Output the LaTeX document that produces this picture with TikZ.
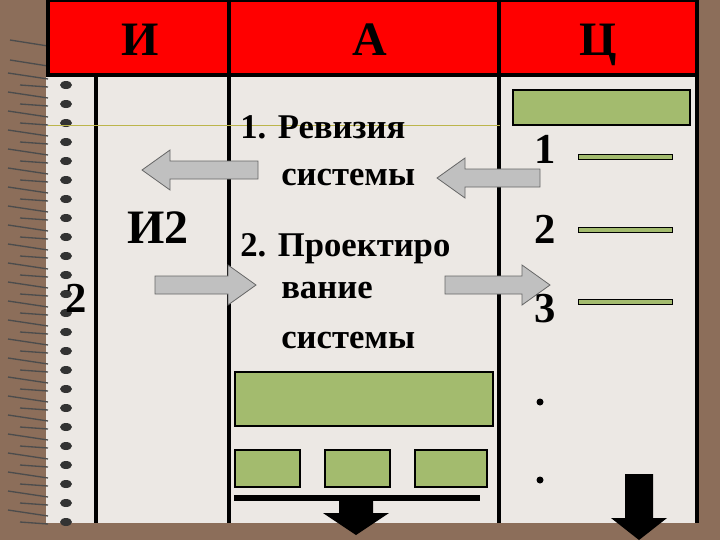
\documentclass[tikz,border=0pt]{standalone}
\usepackage{fontspec}
\setmainfont{Liberation Serif}
\definecolor{brownbg}{HTML}{8C6E5A}
\definecolor{paper}{HTML}{ECE8E4}
\definecolor{hdr}{HTML}{FF0000}
\definecolor{grn}{HTML}{A3BB6E}
\definecolor{arr}{HTML}{C0C0C0}
\newcommand{\harrow}[4]{% x-start, x-tip, y, style
  \pgfmathsetmacro\dir{(#2>#1)?1:-1}
  \draw[#4] (#1,#3-9) -- ({#2-\dir*28},#3-9) -- ({#2-\dir*28},#3-20) -- (#2,#3) -- ({#2-\dir*28},#3+20) -- ({#2-\dir*28},#3+9) -- (#1,#3+9) -- cycle;}
\newcommand{\varrow}[5]{% x, y-start, y-tip, shaft half, head half
  \fill[black] (#1-#4,#2) -- (#1-#4,#3-22) -- (#1-#5,#3-22) -- (#1,#3) -- (#1+#5,#3-22) -- (#1+#4,#3-22) -- (#1+#4,#2) -- cycle;}
\begin{document}
\begin{tikzpicture}[x=0.75pt,y=-0.75pt,
  txt/.style={anchor=base west,font=\bfseries\fontsize{26}{28}\selectfont,inner sep=0},
  big/.style={anchor=base,font=\bfseries\fontsize{32}{34}\selectfont,inner sep=0},
  gbox/.style={draw=black,fill=grn,line width=0.8pt},
  vline/.style={line width=3pt,black},
  garr/.style={draw=black!60,fill=arr,line width=0.6pt},
  seg/.style={draw=black,fill=grn,line width=0.6pt}]
\useasboundingbox (0,0) rectangle (720,540);
\fill[brownbg] (0,0) rectangle (720,540);
\fill[paper] (46,0) rectangle (698,523);
% spiral
\foreach \i in {0,...,23} {
  \pgfmathsetmacro\yy{85+\i*19}
  \draw[black!70,line width=1pt] (8,\yy-12) -- (48,\yy-6);
  \draw[black!70,line width=1pt] (20,\yy) -- (48,\yy+2);
  \fill[black!80] (66,\yy) ellipse (6 and 4);
}
\foreach \yy in {40,60} \draw[black!70,line width=1pt] (10,\yy) -- (48,\yy+6);
% header
\node[draw=black,line width=3pt,fill=hdr,minimum width=649*0.75pt,minimum height=75*0.75pt,inner sep=0] (hd) at (372.5,37.5) {};
\node[big,font=\bfseries\fontsize{36}{38}\selectfont] (hi) at (140,55) {И};
\node[big,font=\bfseries\fontsize{36}{38}\selectfont] (ha) at (370,55) {А};
\node[big,font=\bfseries\fontsize{36}{38}\selectfont] (hc) at (598,55) {Ц};
% lines
\draw[vline] (96,75) -- (96,523);
\draw[vline] (229,0) -- (229,523);
\draw[vline] (499,0) -- (499,523);
\draw[vline] (697,0) -- (697,523);
\draw[olive!60,line width=0.5pt] (48,125) -- (500,125);
% texts
\node[txt] (t1) at (240,138) {1. Ревизия};
\node[txt] (t1b) at (281,185) {системы};
\node[txt] (t2) at (240,256) {2. Проектиро};
\node[txt] (t2b) at (281,298) {вание};
\node[txt] (t2c) at (281,348) {системы};
\node[big,font=\bfseries\fontsize{36}{38}\selectfont] (i2) at (158,243) {И2};
\node[big] (n2) at (76,312) {2};
% grey arrows
\harrow{258}{142}{170}{garr}
\harrow{540}{437}{178}{garr}
\harrow{155}{256}{285}{garr}
\harrow{445}{550}{285}{garr}
% right column
\node[gbox,minimum width=177*0.75pt,minimum height=35*0.75pt,inner sep=0] (rg) at (601.5,107.5) {};
\node[big] (r1) at (545,163) {1};
\node[big] (r2) at (545,243) {2};
\node[big] (r3) at (545,322) {3};
\foreach \yy/\nm in {157/s1,230/s2,302/s3}
  \node[seg,minimum width=94*0.75pt,minimum height=5*0.75pt,inner sep=0] (\nm) at (625,\yy) {};
\fill (540,402) circle (3.5) coordinate (d1);
\fill (540,480) circle (3.5) coordinate (d2);
% green boxes
\node[gbox,minimum width=258*0.75pt,minimum height=54*0.75pt,inner sep=0] (g0) at (364,399) {};
\node[gbox,minimum width=65*0.75pt,minimum height=37*0.75pt,inner sep=0] (g1) at (267.5,468.5) {};
\node[gbox,minimum width=65*0.75pt,minimum height=37*0.75pt,inner sep=0] (g2) at (357.5,468.5) {};
\node[gbox,minimum width=72*0.75pt,minimum height=37*0.75pt,inner sep=0] (g3) at (451,468.5) {};
\fill[black] (234,495) rectangle (480,501);
\varrow{356}{497}{535}{17}{33}
\varrow{639}{474}{540}{14}{28}
\end{tikzpicture}
\end{document}
